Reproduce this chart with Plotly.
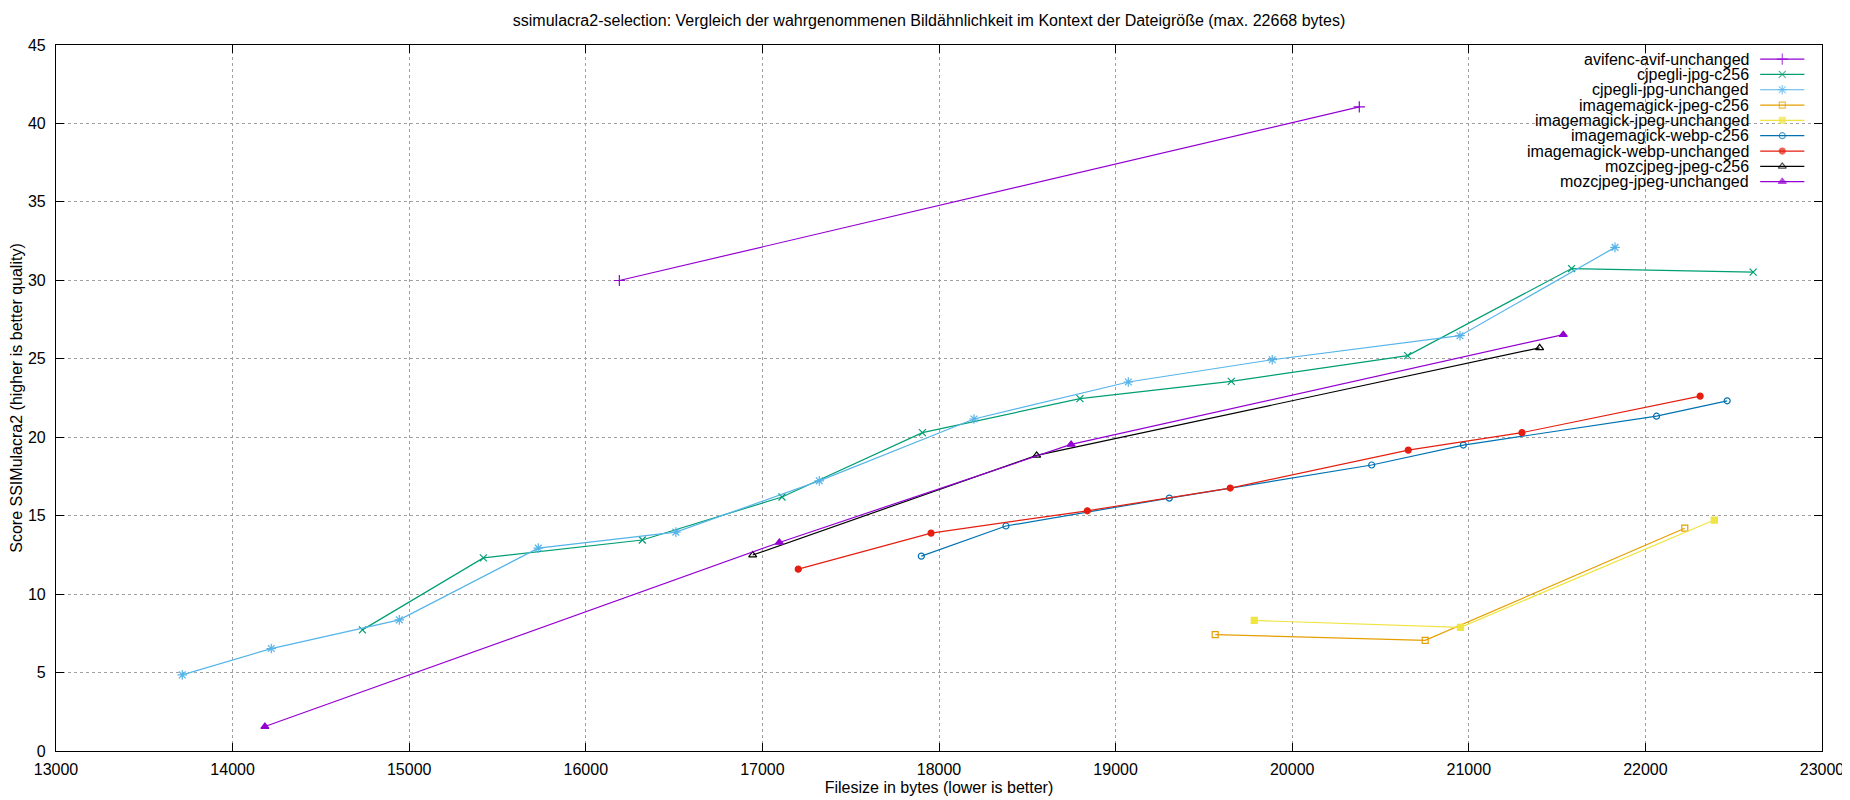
import plotly.graph_objects as go

# values (filesize in bytes, SSIMulacra2 score)
avif_unchanged_x = [16190, 20380]
avif_unchanged_y = [29.99, 41.06]

cjpegli_c256_x = [14735, 15420, 16320, 17111, 17906, 18798, 19655, 20654, 21582, 22610]
cjpegli_c256_y = [7.72, 12.31, 13.45, 16.19, 20.29, 22.46, 23.56, 25.20, 30.75, 30.52]

cjpegli_unchanged_x = [13715, 14219, 14944, 15731, 16510, 17322, 18198, 19072, 19887, 20950, 21828]
cjpegli_unchanged_y = [4.85, 6.53, 8.36, 12.93, 13.95, 17.22, 21.16, 23.52, 24.94, 26.47, 32.1]

im_jpeg_c256_x = [19564, 20753, 22223]
im_jpeg_c256_y = [7.42, 7.05, 14.2]

im_jpeg_unchanged_x = [19785, 20953, 22390]
im_jpeg_unchanged_y = [8.32, 7.88, 14.72]

im_webp_c256_x = [17900, 18379, 19304, 20450, 20969, 22063, 22463]
im_webp_c256_y = [12.42, 14.34, 16.12, 18.23, 19.50, 21.34, 22.32]

im_webp_unchanged_x = [17203, 17955, 18840, 19649, 20657, 21301, 22310]
im_webp_unchanged_y = [11.59, 13.89, 15.31, 16.76, 19.18, 20.29, 22.62]

moz_c256_x = [16945, 18553, 21401]
moz_c256_y = [12.49, 18.84, 25.7]

moz_unchanged_x = [14183, 17096, 18748, 21535]
moz_unchanged_y = [1.56, 13.29, 19.54, 26.54]

x_ticks = list(range(13000, 23001, 1000))
y_ticks = list(range(0, 46, 5))

# name, x, y, colour, marker symbol, marker size
series = [
    ("avifenc-avif-unchanged", avif_unchanged_x, avif_unchanged_y, "#9400d3", "cross-thin-open", 8),
    ("cjpegli-jpg-c256", cjpegli_c256_x, cjpegli_c256_y, "#009e73", "x-thin-open", 7),
    ("cjpegli-jpg-unchanged", cjpegli_unchanged_x, cjpegli_unchanged_y, "#56b4e9", "asterisk-open", 8),
    ("imagemagick-jpeg-c256", im_jpeg_c256_x, im_jpeg_c256_y, "#e69f00", "square-open", 6),
    ("imagemagick-jpeg-unchanged", im_jpeg_unchanged_x, im_jpeg_unchanged_y, "#f0e442", "square", 6),
    ("imagemagick-webp-c256", im_webp_c256_x, im_webp_c256_y, "#0072b2", "circle-open", 6),
    ("imagemagick-webp-unchanged", im_webp_unchanged_x, im_webp_unchanged_y, "#e51e10", "circle", 6),
    ("mozcjpeg-jpeg-c256", moz_c256_x, moz_c256_y, "#000000", "triangle-up-open", 7),
    ("mozcjpeg-jpeg-unchanged", moz_unchanged_x, moz_unchanged_y, "#9400d3", "triangle-up", 7),
]

fig = go.Figure()
for name, xs, ys, col, sym, sz in series:
    fig.add_trace(go.Scatter(
        x=xs, y=ys, name=name, mode="lines+markers", showlegend=False,
        line=dict(color=col, width=1.2),
        marker=dict(symbol=sym, size=sz, color=col, line=dict(color=col, width=1.2)),
    ))

# gnuplot style key: right aligned text, sample line to its right
# drawn on a hidden overlay axis spanning the plot area (0..1 both ways)
key_top = 0.980
key_step = 0.0217
for i, (name, xs, ys, col, sym, sz) in enumerate(series):
    ky = key_top - i * key_step
    fig.add_trace(go.Scatter(
        x=[0.965, 0.9775, 0.990], y=[ky, ky, ky], xaxis="x2", yaxis="y2",
        mode="lines+markers", showlegend=False, hoverinfo="skip",
        line=dict(color=col, width=1.2),
        marker=dict(symbol=sym, size=[0, sz, 0], color=col, line=dict(color=col, width=1.2)),
    ))
    fig.add_annotation(
        text=name, xref="x2", yref="y2", x=0.960, y=ky,
        xanchor="right", yanchor="middle", showarrow=False,
        font=dict(size=16, color="black"),
    )

axis_style = dict(
    showline=True, linecolor="black", linewidth=1.2, mirror="ticks",
    ticks="inside", ticklen=8, tickcolor="black",
    showgrid=True, gridcolor="#a0a0a0", griddash="dot", gridwidth=1,
    zeroline=False, tickfont=dict(size=16, color="black"),
    automargin=False, tickformat="d",
)

fig.update_layout(
    width=1842, height=792,
    paper_bgcolor="white", plot_bgcolor="white",
    font=dict(family="Liberation Sans, Arial, sans-serif", size=16, color="black"),
    margin=dict(l=48, r=28, t=37, b=49),
    title=dict(
        text="ssimulacra2-selection: Vergleich der wahrgenommenen Bildähnlichkeit im Kontext der Dateigröße (max. 22668 bytes)",
        x=0.5, xanchor="center", y=0.984, yanchor="middle", font=dict(size=16),
    ),
    xaxis=dict(axis_style, range=[13000, 23000], tickvals=x_ticks, ticklabelstandoff=4,
               title=dict(text="Filesize in bytes (lower is better)", standoff=4, font=dict(size=16))),
    yaxis=dict(axis_style, range=[0, 45], tickvals=y_ticks, ticklabelstandoff=6,
               title=dict(text="Score SSIMulacra2 (higher is better quality)", standoff=2, font=dict(size=16))),
    xaxis2=dict(overlaying="x", anchor="y2", range=[0, 1], visible=False, fixedrange=True),
    yaxis2=dict(overlaying="y", anchor="x2", range=[0, 1], visible=False, fixedrange=True),
    showlegend=False,
)

fig.write_html("out.html")
